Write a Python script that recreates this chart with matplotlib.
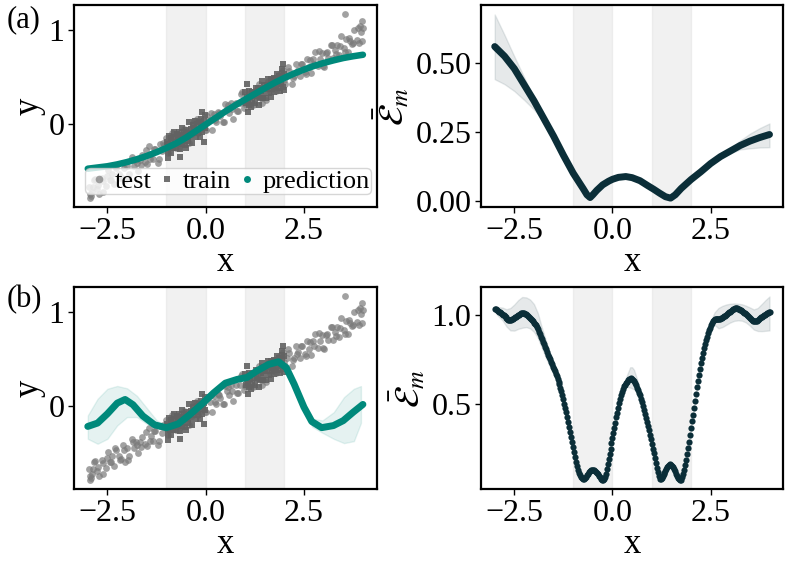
import numpy as np
import matplotlib
matplotlib.use("Agg")
import matplotlib.pyplot as plt
from matplotlib.lines import Line2D

plt.rcParams['font.family'] = ['Liberation Serif', 'DejaVu Serif']
plt.rcParams['mathtext.fontset'] = 'stix'

# ---------------- data ----------------
test_points = [
    (-2.98,-0.67),(-2.93,-0.77),(-2.87,-0.67),(-2.82,-0.59),(-2.76,-0.69),(-2.71,-0.75),(-2.65,-0.58),(-2.60,-0.61),(-2.54,-0.66),(-2.49,-0.49),
    (-2.43,-0.60),(-2.38,-0.53),(-2.32,-0.64),(-2.27,-0.47),(-2.21,-0.53),(-2.16,-0.56),(-2.10,-0.42),(-2.05,-0.60),(-1.99,-0.45),(-1.94,-0.53),
    (-1.88,-0.35),(-1.83,-0.45),(-1.77,-0.38),(-1.72,-0.50),(-1.66,-0.38),(-1.61,-0.33),(-1.55,-0.40),(-1.50,-0.43),(-1.44,-0.23),(-1.39,-0.32),
    (-1.33,-0.37),(-1.28,-0.27),(-1.22,-0.41),(-1.17,-0.21),(-1.11,-0.29),(-1.06,-0.22),(-1.00,-0.15),(-0.95,-0.31),(-0.89,-0.21),(-0.84,-0.15),
    (-0.78,-0.23),(-0.73,-0.12),(-0.67,-0.26),(-0.62,-0.13),(-0.56,-0.05),(-0.51,-0.18),(-0.45,-0.12),(-0.40,-0.06),(-0.34,-0.11),(-0.29,0.03),
    (-0.23,0.05),(-0.18,-0.07),(-0.12,0.01),(-0.07,-0.03),(-0.01,-0.06),(0.04,0.09),(0.10,0.04),(0.15,-0.06),(0.21,0.11),(0.26,0.02),
    (0.32,0.13),(0.37,0.09),(0.43,0.02),(0.48,0.21),(0.54,0.16),(0.59,0.12),(0.65,0.23),(0.70,0.05),(0.76,0.22),(0.81,0.14),
    (0.87,0.22),(0.92,0.34),(0.98,0.17),(1.03,0.22),(1.09,0.32),(1.14,0.29),(1.20,0.20),(1.25,0.35),(1.31,0.30),(1.36,0.43),
    (1.42,0.28),(1.47,0.38),(1.53,0.26),(1.58,0.46),(1.64,0.35),(1.69,0.41),(1.75,0.49),(1.80,0.35),(1.86,0.49),(1.91,0.44),
    (1.97,0.58),(2.02,0.43),(2.08,0.51),(2.13,0.57),(2.19,0.43),(2.24,0.51),(2.30,0.64),(2.35,0.58),(2.41,0.51),(2.46,0.64),
    (2.52,0.56),(2.57,0.69),(2.63,0.61),(2.68,0.55),(2.74,0.69),(2.79,0.77),(2.85,0.62),(2.90,0.69),(2.96,0.76),(3.01,0.61),
    (3.07,0.76),(3.12,0.71),(3.18,0.84),(3.23,0.71),(3.29,0.79),(3.34,0.84),(3.40,0.74),(3.45,0.94),(3.51,0.81),(3.56,0.91),
    (3.62,0.77),(3.67,0.89),(3.73,0.85),(3.78,1.00),(3.84,0.90),(3.89,0.87),(3.95,0.98),(4.00,1.03),
    (-2.955,-0.75),(-2.845,-0.60),(-2.735,-0.65),(-2.625,-0.72),(-2.515,-0.55),(-2.405,-0.60),(-2.295,-0.45),(-2.185,-0.58),(-2.075,-0.47),(-1.965,-0.58),
    (-1.855,-0.38),(-1.745,-0.42),(-1.635,-0.44),(-1.525,-0.28),(-1.415,-0.37),(-1.305,-0.27),(-1.195,-0.37),(-1.085,-0.20),(-0.975,-0.24),(-0.865,-0.09),
    (-0.755,-0.25),(-0.645,-0.13),(-0.535,-0.08),(-0.425,-0.20),(-0.315,0.00),(-0.205,-0.09),(-0.095,-0.01),(0.015,-0.06),(0.125,0.12),(0.235,0.04),
    (0.345,0.12),(0.455,0.02),(0.565,0.20),(0.675,0.16),(0.785,0.14),(0.895,0.32),(1.005,0.21),(1.115,0.34),(1.225,0.21),(1.335,0.34),
    (1.445,0.23),(1.555,0.42),(1.665,0.43),(1.775,0.37),(1.885,0.53),(1.995,0.47),(2.105,0.61),(2.215,0.49),(2.325,0.56),(2.435,0.64),
    (2.545,0.54),(2.655,0.68),(2.765,0.64),(2.875,0.78),(2.985,0.62),(3.095,0.77),(3.205,0.84),(3.315,0.75),(3.425,0.83),(3.535,0.77),
    (3.645,0.92),(3.755,0.87),(3.865,1.03),(3.975,0.89),
    (3.55,1.17),(3.98,1.10),(3.93,1.05),(-2.95,-0.79),(-2.90,-0.72),
]

train_points = [
    (-0.99,-0.19),(-0.97,-0.30),(-0.95,-0.21),(-0.93,-0.13),(-0.91,-0.25),(-0.89,-0.31),(-0.87,-0.15),(-0.85,-0.19),(-0.83,-0.25),(-0.81,-0.08),
    (-0.79,-0.21),(-0.77,-0.14),(-0.75,-0.26),(-0.73,-0.11),(-0.71,-0.17),(-0.69,-0.21),(-0.67,-0.08),(-0.65,-0.27),(-0.63,-0.12),(-0.61,-0.21),
    (-0.59,-0.04),(-0.57,-0.15),(-0.55,-0.08),(-0.53,-0.22),(-0.51,-0.10),(-0.49,-0.06),(-0.47,-0.14),(-0.45,-0.18),(-0.43,0.02),(-0.41,-0.09),
    (-0.39,-0.14),(-0.37,-0.05),(-0.35,-0.20),(-0.33,-0.01),(-0.31,-0.09),(-0.29,-0.04),(-0.27,0.03),(-0.25,-0.14),(-0.23,-0.06),(-0.21,0.00),
    (-0.19,-0.09),(-0.17,0.02),(-0.15,-0.14),(-0.13,-0.01),(-0.11,0.05),(-0.09,-0.08),(-0.07,-0.03),(-0.05,0.03),(-0.03,-0.04),(-0.01,0.10),
    (-0.65,-0.35),(-0.10,0.13),(-0.04,-0.19),(-0.96,-0.36),(-0.50,-0.25),
    (1.01,0.34),(1.03,0.22),(1.05,0.29),(1.07,0.25),(1.09,0.20),(1.11,0.35),(1.13,0.29),(1.15,0.18),(1.17,0.34),(1.19,0.25),
    (1.21,0.34),(1.23,0.30),(1.25,0.22),(1.27,0.39),(1.29,0.34),(1.31,0.29),(1.33,0.39),(1.35,0.20),(1.37,0.37),(1.39,0.28),
    (1.41,0.35),(1.43,0.46),(1.45,0.28),(1.47,0.32),(1.49,0.42),(1.51,0.38),(1.53,0.28),(1.55,0.42),(1.57,0.37),(1.59,0.48),
    (1.61,0.33),(1.63,0.42),(1.65,0.29),(1.67,0.48),(1.69,0.37),(1.71,0.41),(1.73,0.49),(1.75,0.34),(1.77,0.47),(1.79,0.41),
    (1.81,0.54),(1.83,0.39),(1.85,0.45),(1.87,0.51),(1.89,0.35),(1.91,0.43),(1.93,0.55),(1.95,0.49),(1.97,0.40),(1.99,0.53),
    (1.97,0.64),(1.93,0.59),(1.04,0.43),(1.08,0.13),(1.99,0.36),
]

# (a) prediction
pred_a_x = [-3.0,-2.75,-2.5,-2.25,-2.0,-1.75,-1.5,-1.25,-1.0,-0.75,-0.5,-0.25,0.0,0.25,0.5,0.75,1.0,
            1.25,1.5,1.75,2.0,2.25,2.5,2.75,3.0,3.25,3.5,3.75,4.0]
pred_a_y = [-0.476,-0.463,-0.450,-0.430,-0.405,-0.375,-0.340,-0.300,-0.255,-0.205,-0.145,-0.075,-0.005,
            0.065,0.135,0.200,0.262,0.322,0.382,0.440,0.492,0.540,0.582,0.620,0.652,0.680,0.705,0.724,0.740]

# (a) error
err_a_x = [-3.0,-2.75,-2.5,-2.25,-2.0,-1.75,-1.5,-1.25,-1.0,-0.85,-0.75,-0.65,-0.57,-0.5,-0.4,-0.25,-0.1,
           0.0,0.15,0.34,0.5,0.7,0.9,1.05,1.2,1.35,1.48,1.6,1.75,2.0,2.25,2.5,2.75,3.0,3.25,3.5,3.75,4.0]
err_a_y = [0.558,0.523,0.478,0.420,0.362,0.298,0.234,0.165,0.100,0.067,0.045,0.022,0.012,0.022,0.038,
           0.058,0.071,0.078,0.085,0.088,0.084,0.073,0.055,0.042,0.028,0.015,0.010,0.022,0.045,0.077,
           0.105,0.135,0.160,0.180,0.200,0.216,0.229,0.240]
err_a_band1_x = [-3.0,-2.75,-2.5,-2.25,-2.0,-1.85,-1.7]
err_a_band1_hi = [0.674,0.600,0.522,0.447,0.370,0.326,0.288]
err_a_band1_lo = [0.440,0.422,0.397,0.365,0.330,0.305,0.280]
err_a_band2_x = [2.5,2.75,3.0,3.25,3.5,3.75,4.0]
err_a_band2_hi = [0.138,0.166,0.190,0.218,0.243,0.263,0.280]
err_a_band2_lo = [0.132,0.155,0.172,0.186,0.190,0.193,0.194]

# (b) prediction
pred_b_x = [-3.0,-2.75,-2.5,-2.25,-2.05,-1.85,-1.6,-1.3,-1.0,-0.7,-0.4,-0.1,0.2,0.5,0.8,1.05,1.3,1.6,
            1.85,2.05,2.25,2.5,2.7,2.95,3.25,3.5,3.75,4.0]
pred_b_y = [-0.217,-0.181,-0.082,0.032,0.071,0.015,-0.105,-0.200,-0.231,-0.190,-0.090,0.020,0.140,0.245,
            0.285,0.305,0.375,0.445,0.473,0.410,0.235,-0.011,-0.165,-0.230,-0.208,-0.155,-0.066,0.018]
pred_b_band1_x = [-3.0,-2.75,-2.5,-2.25,-2.0,-1.75,-1.5,-1.25,-1.0]
pred_b_band1_hi = [-0.10,0.078,0.185,0.215,0.19,0.11,-0.02,-0.15,-0.22]
pred_b_band1_lo = [-0.349,-0.402,-0.349,-0.206,-0.117,-0.117,-0.189,-0.224,-0.24]
pred_b_band2_x = [2.3,2.5,2.71,2.97,3.26,3.52,3.77,3.95]
pred_b_band2_hi = [0.19,-0.005,-0.135,-0.153,-0.064,0.096,0.185,0.214]
pred_b_band2_lo = [0.17,-0.03,-0.22,-0.285,-0.35,-0.395,-0.374,-0.18]

# (b) error, sampled every 0.025 from -3 to 4
err_b_y = [
    1.036,1.032,1.028,1.024,1.020,1.016,1.012,1.007,
    1.003,0.998,0.993,0.987,0.982,0.977,0.973,0.970,
    0.970,0.972,0.975,0.979,0.983,0.987,0.991,0.995,
    0.999,1.003,1.006,1.009,1.011,1.011,1.010,1.008,
    1.004,1.000,0.995,0.989,0.983,0.977,0.971,0.964,
    0.957,0.949,0.941,0.930,0.920,0.907,0.892,0.878,
    0.863,0.849,0.835,0.821,0.806,0.792,0.777,0.763,
    0.749,0.735,0.722,0.709,0.696,0.682,0.668,0.655,
    0.640,0.624,0.608,0.590,0.571,0.549,0.525,0.500,
    0.475,0.450,0.422,0.394,0.365,0.337,0.309,0.281,
    0.253,0.225,0.197,0.171,0.148,0.127,0.108,0.094,
    0.084,0.077,0.073,0.074,0.079,0.086,0.095,0.104,
    0.112,0.118,0.123,0.126,0.127,0.125,0.121,0.115,
    0.108,0.100,0.092,0.084,0.076,0.070,0.067,0.071,
    0.085,0.104,0.128,0.156,0.186,0.215,0.245,0.275,
    0.304,0.334,0.363,0.392,0.421,0.449,0.476,0.502,
    0.526,0.548,0.567,0.583,0.597,0.607,0.616,0.624,
    0.631,0.637,0.641,0.643,0.641,0.635,0.627,0.616,
    0.603,0.590,0.576,0.562,0.546,0.528,0.508,0.487,
    0.465,0.442,0.418,0.395,0.372,0.348,0.324,0.299,
    0.272,0.245,0.218,0.191,0.165,0.138,0.112,0.090,
    0.076,0.074,0.080,0.089,0.099,0.109,0.120,0.131,
    0.141,0.149,0.154,0.156,0.153,0.147,0.139,0.128,
    0.116,0.104,0.092,0.081,0.072,0.067,0.070,0.083,
    0.100,0.124,0.152,0.183,0.215,0.250,0.285,0.323,
    0.361,0.399,0.437,0.475,0.515,0.555,0.595,0.630,
    0.663,0.696,0.727,0.757,0.786,0.812,0.836,0.858,
    0.878,0.897,0.914,0.929,0.942,0.954,0.964,0.971,
    0.975,0.977,0.978,0.978,0.978,0.978,0.979,0.982,
    0.986,0.990,0.994,0.997,1.001,1.005,1.010,1.015,
    1.020,1.025,1.030,1.034,1.037,1.039,1.040,1.039,
    1.037,1.034,1.031,1.027,1.023,1.019,1.014,1.010,
    1.005,1.000,0.995,0.989,0.984,0.979,0.974,0.969,
    0.966,0.964,0.965,0.968,0.972,0.977,0.982,0.987,
    0.991,0.995,0.999,1.002,1.005,1.009,1.012,1.015,
    1.018,
]
err_b_band1_x = [-3.0,-2.9,-2.8,-2.7,-2.6,-2.5,-2.4,-2.3,-2.2,-2.1,-2.0,-1.9,-1.8,-1.7,-1.6,-1.5,-1.4,-1.3]
err_b_band1_hi = [1.049,1.045,1.042,1.033,1.040,1.060,1.085,1.102,1.100,1.088,1.062,1.010,0.930,0.860,0.790,0.730,0.665,0.585]
err_b_band1_lo = [1.017,0.992,0.970,0.935,0.913,0.912,0.922,0.928,0.932,0.925,0.905,0.870,0.815,0.760,0.712,0.665,0.618,0.558]
err_b_band2_x = [0.25,0.35,0.45,0.5,0.55,0.65,0.75]
err_b_band2_hi = [0.59,0.65,0.705,0.705,0.69,0.62,0.52]
err_b_band2_lo = [0.555,0.595,0.59,0.585,0.58,0.555,0.50]
err_b_band3_x = [2.4,2.5,2.6,2.7,2.8,2.9,3.0,3.1,3.2,3.3,3.4,3.5,3.6,3.7,3.8,3.9,4.0]
err_b_band3_hi = [0.888,0.965,1.015,1.040,1.052,1.060,1.064,1.066,1.064,1.061,1.053,1.043,1.032,1.040,1.062,1.085,1.105]
err_b_band3_lo = [0.868,0.925,0.945,0.925,0.932,0.945,0.958,0.967,0.970,0.968,0.958,0.940,0.918,0.910,0.909,0.911,0.913]

shaded = [(-1, 0), (1, 2)]
xticks = [-2.5, 0.0, 2.5]
xticklabels = ['\u22122.5', '0.0', '2.5']

# ---------------- style ----------------
TEAL = '#00897b'
DARK = '#0b2e38'
TEST_C = '#7a7a7a'
TRAIN_C = '#626262'
TICK_FS = 23
LABEL_FS = 25

test = np.array(test_points)
train = np.array(train_points)

fig = plt.figure(figsize=(7.89, 5.63), dpi=100)
ax_tl = fig.add_axes([0.0938, 0.6318, 0.3836, 0.3588])
ax_tr = fig.add_axes([0.6096, 0.6318, 0.3831, 0.3588])
ax_bl = fig.add_axes([0.0938, 0.1309, 0.3836, 0.3588])
ax_br = fig.add_axes([0.6096, 0.1309, 0.3831, 0.3588])


def base(ax):
    for lo, hi in shaded:
        ax.axvspan(lo, hi, color='lightgray', alpha=0.3, zorder=0)
    for s in ax.spines.values():
        s.set_linewidth(1.6)
    ax.set_xticks(xticks)
    ax.set_xticklabels(xticklabels)
    ax.set_xlabel('x', fontsize=LABEL_FS, labelpad=0)


def finish(ax):
    ax.tick_params(axis='both', which='major', labelsize=TICK_FS, width=1.0, length=4, pad=3)


def data_panel(ax):
    ax.scatter(test[:, 0], test[:, 1], s=24, marker='o', color=TEST_C, alpha=0.7,
               linewidths=0, zorder=2)
    ax.scatter(train[:, 0], train[:, 1], s=22, marker='s', color=TRAIN_C, alpha=0.9,
               linewidths=0, zorder=3)
    ax.set_yticks([0, 1])
    ax.set_yticklabels(['0', '1'])
    ax.set_ylabel('y', fontsize=LABEL_FS, labelpad=2)


# (a) left
base(ax_tl)
data_panel(ax_tl)
ax_tl.plot(pred_a_x, pred_a_y, color=TEAL, lw=4.7, solid_capstyle='round', zorder=4)
handles = [Line2D([], [], ls='', marker='o', color=TEST_C, alpha=0.7, markersize=5.5, markeredgewidth=0),
           Line2D([], [], ls='', marker='s', color=TRAIN_C, alpha=0.9, markersize=5, markeredgewidth=0),
           Line2D([], [], ls='', marker='o', color=TEAL, markersize=5, markeredgewidth=0)]
ax_tl.legend(handles, ['test', 'train', 'prediction'], loc='lower center', ncol=3,
             fontsize=19, handlelength=0.9, handletextpad=0.15, columnspacing=0.15,
             borderpad=0.05, borderaxespad=0.5, framealpha=0.8,
             bbox_to_anchor=(0.51, 0.0))
finish(ax_tl)

# (a) right
base(ax_tr)
ax_tr.fill_between(err_a_band1_x, err_a_band1_lo, err_a_band1_hi, color=DARK, alpha=0.1, zorder=2)
ax_tr.fill_between(err_a_band2_x, err_a_band2_lo, err_a_band2_hi, color=DARK, alpha=0.1, zorder=2)
ax_tr.plot(err_a_x, err_a_y, color=DARK, lw=5, solid_capstyle='round', zorder=3)
ax_tr.set_yticks([0.0, 0.25, 0.5])
ax_tr.set_yticklabels(['0.00', '0.25', '0.50'])
ax_tr.set_ylabel(r'$\bar{\mathcal{E}}_m$', fontsize=LABEL_FS, labelpad=2)
finish(ax_tr)

# (b) left
base(ax_bl)
data_panel(ax_bl)
ax_bl.fill_between(pred_b_band1_x, pred_b_band1_lo, pred_b_band1_hi, color=TEAL, alpha=0.1, zorder=3)
ax_bl.fill_between(pred_b_band2_x, pred_b_band2_lo, pred_b_band2_hi, color=TEAL, alpha=0.1, zorder=3)
ax_bl.plot(pred_b_x, pred_b_y, color=TEAL, lw=5, solid_capstyle='round', zorder=4)
finish(ax_bl)

# (b) right
base(ax_br)
err_b_x = np.linspace(-3, 4, len(err_b_y))
ax_br.fill_between(err_b_band1_x, err_b_band1_lo, err_b_band1_hi, color=DARK, alpha=0.1, zorder=2)
ax_br.fill_between(err_b_band2_x, err_b_band2_lo, err_b_band2_hi, color=DARK, alpha=0.1, zorder=2)
ax_br.fill_between(err_b_band3_x, err_b_band3_lo, err_b_band3_hi, color=DARK, alpha=0.1, zorder=2)
ax_br.scatter(err_b_x, err_b_y, s=20, color=DARK, linewidths=0, zorder=3)
ax_br.set_yticks([0.5, 1.0])
ax_br.set_yticklabels(['0.5', '1.0'])
ax_br.set_ylabel(r'$\bar{\mathcal{E}}_m$', fontsize=LABEL_FS, labelpad=2)
finish(ax_br)

fig.text(7 / 789, 1 - 5 / 563, '(a)', fontsize=22, ha='left', va='top')
fig.text(7 / 789, 1 - 285 / 563, '(b)', fontsize=22, ha='left', va='top')

fig.savefig('out.png', dpi=100)
